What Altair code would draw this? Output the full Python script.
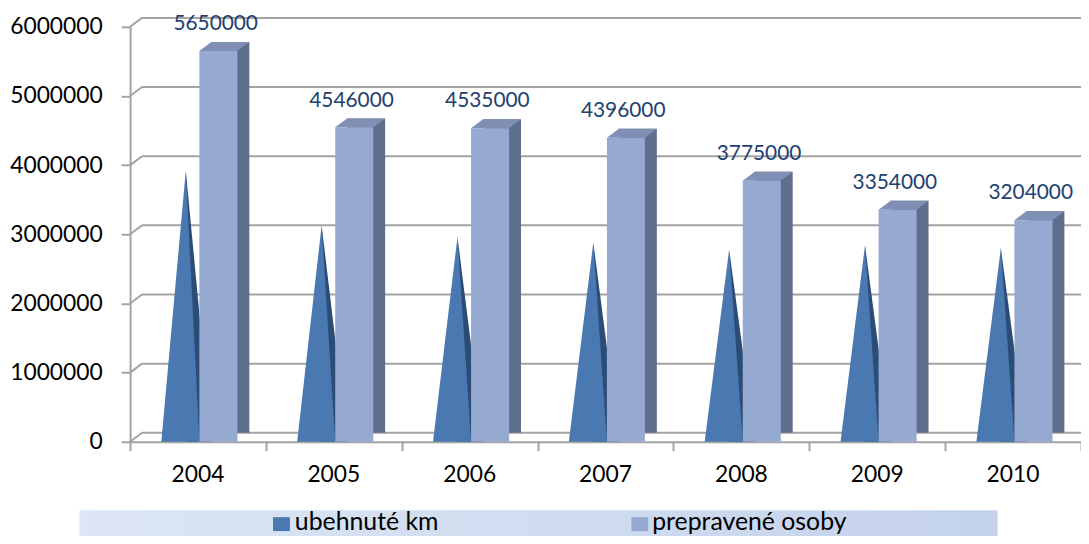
import altair as alt
import pandas as pd

# ---- data ----
years = ["2004", "2005", "2006", "2007", "2008", "2009", "2010"]
km_values = [3920000, 3130000, 2960000, 2880000, 2780000, 2840000, 2800000]
osoby_values = [5650000, 4546000, 4535000, 4396000, 3775000, 3354000, 3204000]
series_names = ["ubehnuté km", "prepravené osoby"]
y_ticks = [0, 1000000, 2000000, 3000000, 4000000, 5000000, 6000000]

# ---- layout / style ----
W, H = 958, 418
DX, DY = 12, -9
PYR_L, PYR_TIP, PYR_R, PYR_BACK = 0.23, 0.41, 0.51, 0.60
BAR_L, BAR_R, LBL = 0.51, 0.79, 0.63
FONT = "Lato"
GRID = "#A3A3A3"
C_PYR, C_PYR_DARK = "#4A78B0", "#2C4C78"
C_BAR, C_BAR_SIDE, C_BAR_TOP = "#95A9D1", "#5F6E8B", "#7F90B4"
C_LABEL = "#22406F"

# top face of a 3D bar as a symbol path (unit = 25 px, size = 2500)
band_px = W / len(years)
hw = (BAR_R - BAR_L) * band_px / 2
U = 25.0
top_path = "M {a:.3f} 0 L {b:.3f} 0 L {c:.3f} {d:.3f} L {e:.3f} {d:.3f} Z".format(
    a=-hw / U, b=hw / U, c=(hw + DX) / U, d=DY / U, e=(-hw + DX) / U)

# ---- tables built from the arrays ----
pyr_rows, side_rows, bar_rows = [], [], []
for i, (yr, k, o) in enumerate(zip(years, km_values, osoby_values)):
    pyr_rows += [dict(year=yr, x=i + PYR_L, v=0), dict(year=yr, x=i + PYR_TIP, v=k),
                 dict(year=yr, x=i + PYR_R, v=0)]
    side_rows += [dict(year=yr, x=i + PYR_TIP, v=k), dict(year=yr, x=i + PYR_BACK, v=0)]
    bar_rows.append(dict(year=yr, x0=i + BAR_L, x1=i + BAR_R, xb=i + (BAR_L + BAR_R) / 2,
                         xm=i + LBL, xc=i + 0.5, v=o, label=str(o)))
pyr_df = pd.DataFrame(pyr_rows)
side_df = pd.DataFrame(side_rows)
bar_df = pd.DataFrame(bar_rows)
grid_df = pd.DataFrame({"g": y_ticks})
one = pd.DataFrame({"a": [0]})

xs = alt.Scale(domain=[0, len(years)], nice=False, zero=False)
ys = alt.Scale(domain=[0, 6000000], nice=False)
x_axis = alt.Axis(values=list(range(len(years) + 1)), labels=False, title=None,
                  tickSize=9, tickColor=GRID, tickWidth=2, domainColor=GRID,
                  domainWidth=2, grid=False)
y_axis = alt.Axis(values=y_ticks, format="d", title=None, labelFontSize=23,
                  labelFont=FONT, labelColor="#000000", tickSize=9, tickColor=GRID,
                  tickWidth=2, labelPadding=19, domainColor=GRID, domainWidth=2,
                  grid=False)


def X(f):
    return alt.X(f, scale=xs, axis=x_axis)


def Y(f):
    return alt.Y(f, scale=ys, axis=y_axis, stack=None)


# back-wall gridlines
grid = alt.Chart(grid_df).mark_rule(color=GRID, strokeWidth=2, xOffset=DX, x2Offset=DX,
                                    yOffset=DY, y2Offset=DY).encode(
    x=X("x0:Q"), x2=alt.X2("x1:Q"), y=Y("g:Q"),
).transform_calculate(x0="0", x1=str(len(years)))

# connectors from front axis to back wall
conn = alt.Chart(grid_df).mark_rule(color=GRID, strokeWidth=2, x2Offset=DX, y2Offset=DY).encode(
    x=X("x0:Q"), x2=alt.X2("x0:Q"), y=Y("g:Q"), y2=alt.Y2("g:Q"),
).transform_calculate(x0="0")

pyr_side = alt.Chart(side_df).mark_area(color=C_PYR_DARK).encode(
    x=X("x:Q"), y=Y("v:Q"), detail="year:N",
)
pyr_front = alt.Chart(pyr_df).mark_area(color=C_PYR).encode(
    x=X("x:Q"), y=Y("v:Q"), detail="year:N",
)

bar_back = alt.Chart(bar_df).mark_rect(color=C_BAR_SIDE, xOffset=DX, x2Offset=DX,
                                       yOffset=DY, y2Offset=DY).encode(
    x=X("x0:Q"), x2="x1:Q", y=Y("v:Q"), y2=alt.Y2("zero:Q"),
).transform_calculate(zero="0")
bar_top = alt.Chart(bar_df).mark_point(shape=top_path, size=U * U * 4, filled=True,
                                       color=C_BAR_TOP, opacity=1, strokeWidth=0).encode(
    x=X("xb:Q"), y=Y("v:Q"),
)
bar_front = alt.Chart(bar_df).mark_rect(color=C_BAR).encode(
    x=X("x0:Q"), x2="x1:Q", y=Y("v:Q"), y2=alt.Y2("zero:Q"),
).transform_calculate(zero="0")

labels = alt.Chart(bar_df).mark_text(font=FONT, fontSize=21, color=C_LABEL, baseline="middle",
                                     align="center", yOffset=-27).encode(
    x=X("xm:Q"), y=Y("v:Q"), text="label:N",
)

year_lbl = alt.Chart(bar_df).mark_text(font=FONT, fontSize=23, color="#000000",
                                       baseline="middle", align="center").encode(
    x=X("xc:Q"), y=alt.value(H + 34), text="year:N",
)

band = alt.Chart(one).mark_rect(
    color=alt.Gradient(gradient="linear", x1=0, x2=1, y1=0, y2=0,
                       stops=[alt.GradientStop(color="#DCE6F4", offset=0),
                              alt.GradientStop(color="#C4D2EB", offset=1)])
).encode(x=alt.value(-51), x2=alt.value(874), y=alt.value(487), y2=alt.value(530))

sq1 = alt.Chart(one).mark_rect(color=C_PYR).encode(
    x=alt.value(144), x2=alt.value(161), y=alt.value(494), y2=alt.value(508))
sq2 = alt.Chart(one).mark_rect(color=C_BAR).encode(
    x=alt.value(505), x2=alt.value(522), y=alt.value(494), y2=alt.value(508))
t1 = alt.Chart(one).mark_text(font=FONT, fontSize=25, color="#000000", align="left",
                              baseline="alphabetic", text=series_names[0]).encode(
    x=alt.value(166), y=alt.value(507))
t2 = alt.Chart(one).mark_text(font=FONT, fontSize=25, color="#000000", align="left",
                              baseline="alphabetic", text=series_names[1]).encode(
    x=alt.value(526), y=alt.value(507))

chart = alt.layer(grid, conn, pyr_side, pyr_front, bar_back, bar_top, bar_front, labels,
                  year_lbl, band, sq1, sq2, t1, t2).properties(
    width=W, height=H,
    autosize=alt.AutoSizeParams(type="none"),
    padding={"left": 123, "top": 17, "right": 0, "bottom": 93},
    background="white",
).configure_view(stroke=None)

chart.save("out.html", embed_options={"renderer": "svg", "actions": False})
